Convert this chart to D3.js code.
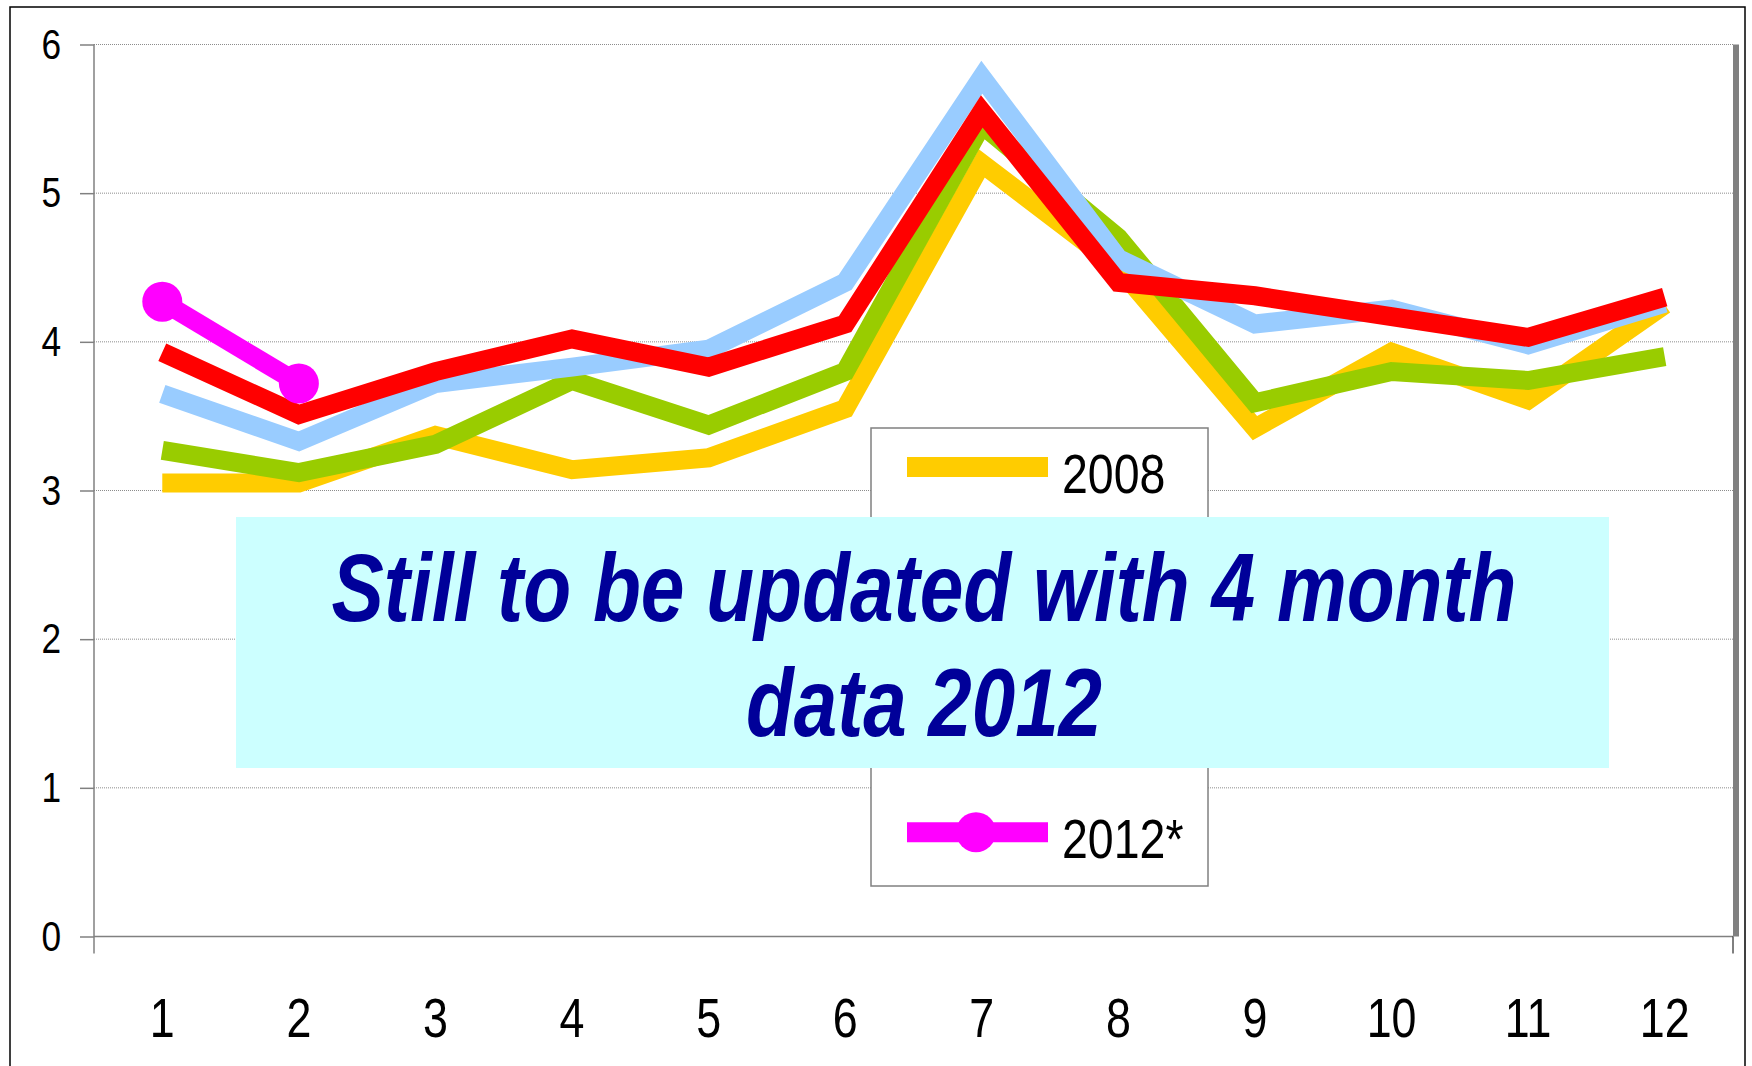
<!DOCTYPE html>
<html>
<head>
<meta charset="utf-8">
<script src="https://cdnjs.cloudflare.com/ajax/libs/d3/7.8.5/d3.min.js"></script>
<style>
  body { margin: 0; background: #fff; }
  svg { display: block; }
</style>
</head>
<body>
<div class="chart"></div>
<script>
// data
var months = ["1","2","3","4","5","6","7","8","9","10","11","12"];
var yTicks = [0, 1, 2, 3, 4, 5, 6];
var seriesNames = ["2008", "2009", "2010", "2011", "2012*"];
var seriesColors = ["#ffcc00", "#99cc00", "#99ccff", "#ff0000", "#ff00ff"];
var v2008 = [3.05, 3.05, 3.37, 3.14, 3.22, 3.55, 5.20, 4.50, 3.42, 3.93, 3.61, 4.25];
var v2009 = [3.27, 3.12, 3.31, 3.74, 3.44, 3.80, 5.46, 4.70, 3.59, 3.80, 3.74, 3.90];
var v2010 = [3.65, 3.33, 3.72, 3.83, 3.95, 4.40, 5.78, 4.56, 4.12, 4.22, 3.98, 4.26];
var v2011 = [3.93, 3.51, 3.80, 4.02, 3.83, 4.12, 5.55, 4.40, 4.31, 4.17, 4.03, 4.30];
var v2012 = [4.27, 3.72];
var noteLines = ["Still to be updated with 4 month", "data 2012"];

var allSeries = [v2008, v2009, v2010, v2011, v2012];

var width = 1752, height = 1066;
var plot = {left: 94, right: 1733, top: 44.5, bottom: 936.5};
var narrow = '"Liberation Sans Narrow", "Arial Narrow", "Liberation Sans", Arial, sans-serif';

var svg = d3.select(".chart").append("svg")
  .attr("width", width)
  .attr("height", height);

var x = d3.scaleBand().domain(months).range([plot.left, plot.right]).padding(0);
var y = d3.scaleLinear().domain([0, 6]).range([plot.bottom, plot.top]);

// squeeze text to look like a narrow face (no Arial Narrow here)
function squeeze(sel, k) {
  sel.each(function(){
    var w = this.getComputedTextLength();
    d3.select(this).attr("textLength", w * k).attr("lengthAdjust", "spacingAndGlyphs");
  });
}

// outer frame
svg.append("rect")
  .attr("x", 10).attr("y", 7)
  .attr("width", 1735).attr("height", 1070)
  .style("fill", "none").style("stroke", "#000").style("stroke-width", 1.5);

// gridlines (dotted)
svg.append("g").selectAll("line")
  .data(yTicks.filter(function(d){ return d > 0; }))
  .enter().append("line")
  .attr("x1", plot.left).attr("x2", plot.right)
  .attr("y1", function(d){ return y(d); })
  .attr("y2", function(d){ return y(d); })
  .style("stroke", "#8c8c8c").style("stroke-width", 1)
  .style("stroke-dasharray", "1,1");

// grey shadow bar on the right of the plot
svg.append("rect")
  .attr("x", plot.right).attr("y", y(6))
  .attr("width", 6).attr("height", y(0) - y(6))
  .style("fill", "#808080");

// y axis
var yAxis = svg.append("g")
  .attr("transform", "translate(" + plot.left + ",0)")
  .call(d3.axisLeft(y).tickValues(yTicks).tickSize(14).tickPadding(19).tickFormat(d3.format("d")));
yAxis.select(".domain").remove();
yAxis.selectAll(".tick line").style("stroke", "#808080").style("stroke-width", 1.5);
yAxis.selectAll(".tick text")
  .style("font-family", narrow).style("font-size", "43px").style("fill", "#000")
  .call(squeeze, 0.82);
yAxis.append("line")
  .attr("x1", 0).attr("x2", 0)
  .attr("y1", y(6)).attr("y2", y(0) + 17)
  .style("stroke", "#808080").style("stroke-width", 1.5);

// x axis
var xAxis = svg.append("g")
  .attr("transform", "translate(0," + y(0) + ")")
  .call(d3.axisBottom(x).tickSize(0).tickPadding(61));
xAxis.select(".domain").remove();
xAxis.selectAll(".tick text")
  .style("font-family", narrow).style("font-size", "56px").style("fill", "#000")
  .call(squeeze, 0.8);
xAxis.append("line")
  .attr("x1", plot.left).attr("x2", plot.right)
  .attr("y1", 0).attr("y2", 0)
  .style("stroke", "#808080").style("stroke-width", 1.5);
xAxis.append("line")
  .attr("x1", plot.right).attr("x2", plot.right)
  .attr("y1", 0).attr("y2", 17)
  .style("stroke", "#000").style("stroke-width", 1);

// lines
var line = d3.line()
  .x(function(d, i){ return x(months[i]) + x.bandwidth() / 2; })
  .y(function(d){ return y(d); });

svg.append("g").selectAll("path")
  .data(allSeries)
  .enter().append("path")
  .attr("d", line)
  .style("fill", "none")
  .style("stroke", function(d, i){ return seriesColors[i]; })
  .style("stroke-width", 19)
  .style("stroke-linejoin", "miter")
  .style("stroke-linecap", "butt");

// markers for 2012*
svg.append("g").selectAll("circle")
  .data(v2012)
  .enter().append("circle")
  .attr("cx", function(d, i){ return x(months[i]) + x.bandwidth() / 2; })
  .attr("cy", function(d){ return y(d); })
  .attr("r", 20)
  .style("fill", seriesColors[4]);

// legend
var legend = svg.append("g").attr("transform", "translate(871,428)");
legend.append("rect")
  .attr("width", 337).attr("height", 458)
  .style("fill", "#fff").style("stroke", "#808080").style("stroke-width", 1.5);
var item = legend.selectAll(".item")
  .data(seriesNames)
  .enter().append("g")
  .attr("class", "item")
  .attr("transform", function(d, i){ return "translate(0," + (39 + i * 91.3) + ")"; });
item.append("line")
  .attr("x1", 36).attr("x2", 177)
  .style("stroke", function(d, i){ return seriesColors[i]; })
  .style("stroke-width", 20);
item.filter(function(d, i){ return i === 4; }).append("circle")
  .attr("cx", 105).attr("r", 20)
  .style("fill", seriesColors[4]);
item.append("text")
  .attr("x", 191).attr("y", 26)
  .style("font-family", narrow).style("font-size", "56px").style("fill", "#000")
  .text(function(d){ return d; })
  .call(squeeze, 0.83);

// cyan note box
var note = svg.append("g");
note.append("rect")
  .attr("x", 236).attr("y", 517)
  .attr("width", 1373).attr("height", 251)
  .style("fill", "#ccffff");
note.selectAll("text")
  .data(noteLines)
  .enter().append("text")
  .attr("x", 924)
  .attr("y", function(d, i){ return 621 + i * 115; })
  .attr("text-anchor", "middle")
  .attr("textLength", function(d, i){ return i === 0 ? 1185 : 356; })
  .attr("lengthAdjust", "spacingAndGlyphs")
  .style("font-family", narrow)
  .style("font-size", "96px")
  .style("font-weight", "bold")
  .style("font-style", "italic")
  .style("fill", "#000099")
  .text(function(d){ return d; });
</script>
</body>
</html>
